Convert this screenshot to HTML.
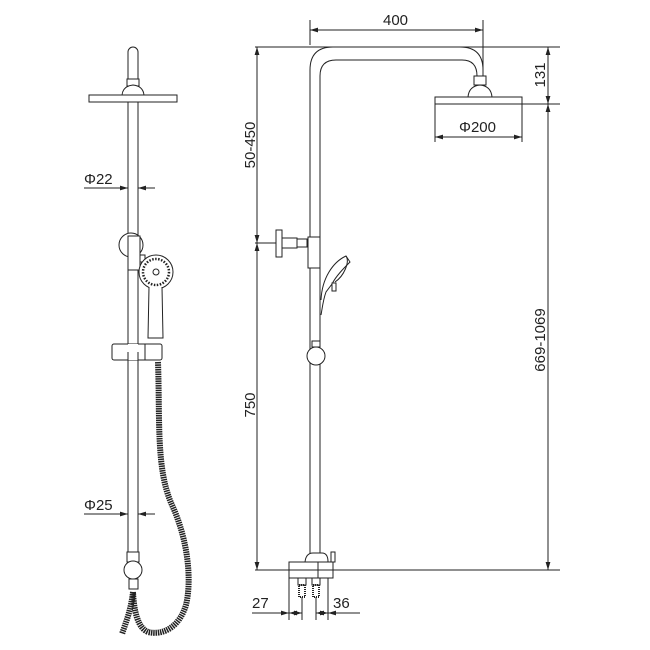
<!DOCTYPE html>
<html><head><style>
html,body{margin:0;padding:0;background:#fff;}
svg{display:block;}
text{font-family:"Liberation Sans",sans-serif;font-size:15px;fill:#222;}
</style></head><body>
<svg width="650" height="650" viewBox="0 0 650 650" xmlns="http://www.w3.org/2000/svg">
<defs>
<marker id="a" viewBox="0 0 10 6" refX="10" refY="3" markerWidth="8" markerHeight="5" orient="auto-start-reverse"><path d="M0,0 L10,3 L0,6 z" fill="#222"/></marker>
</defs>
<g fill="none" stroke="#222" stroke-width="1">
<path d="M128,80 V52 a5,5 0 0 1 10,0 V80 z" fill="#fff"/>
<rect x="127" y="79" width="12" height="7" fill="#fff"/>
<path d="M122,95 q1,-9 11,-10 q10,1 11,10 z" fill="#fff"/>
<rect x="89" y="95" width="88" height="7" fill="#fff"/>
<line x1="128" y1="102" x2="128" y2="555"/>
<line x1="138" y1="102" x2="138" y2="555"/>
<line x1="84" y1="188" x2="128" y2="188" marker-end="url(#a)"/>
<line x1="155" y1="188" x2="138" y2="188" marker-end="url(#a)"/>
<circle cx="131" cy="245" r="12" fill="#fff"/>
<rect x="128" y="236" width="12" height="34" fill="#fff"/>
<rect x="140" y="255" width="5" height="7" fill="#fff"/>
<circle cx="156" cy="272" r="17" fill="#fff"/>
<circle cx="156" cy="272" r="13" stroke-dasharray="1.5 1.5" stroke-width="2.5"/>
<circle cx="156" cy="272" r="3"/>
<path d="M149,287 L148,338 H163 L162,287" fill="#fff"/>
<rect x="112" y="344" width="50" height="16" rx="2" fill="#fff"/>
<line x1="145" y1="344" x2="145" y2="360"/>
<rect x="128" y="344" width="10" height="16" fill="#fff" stroke="none"/>
<line x1="128" y1="352" x2="128" y2="400"/><line x1="138" y1="352" x2="138" y2="400"/>
<line x1="84" y1="514" x2="128" y2="514" marker-end="url(#a)"/>
<line x1="155" y1="514" x2="138" y2="514" marker-end="url(#a)"/>
<rect x="127" y="552" width="12" height="10" fill="#fff"/>
<circle cx="133" cy="570" r="9" fill="#fff"/>
<rect x="129" y="579" width="9" height="10" fill="#fff"/>
<path d="M158,362 C160,420 156,470 172,505 C188,540 192,580 186,605 C180,625 165,636 148,632 C138,628 134,612 133,592" stroke="#222" stroke-width="6" stroke-dasharray="1.5 0.8"/>
<path d="M133,592 C131,610 126,622 122,634" stroke="#222" stroke-width="6" stroke-dasharray="1.5 0.8"/>
</g>
<g stroke="#222" stroke-width="1" fill="none">
<path d="M310,555 V70 Q310,47 333,47 H460 Q483,47 483,70 V76"/>
<path d="M320,555 V76 Q320,60 336,60 H462 Q477,60 477,76"/>
<rect x="474" y="76" width="12" height="9" fill="#fff"/>
<path d="M468,97 q1,-11 12,-12 q11,1 12,12 z" fill="#fff"/>
<rect x="435" y="97" width="87" height="7" fill="#fff"/>
<rect x="276" y="230" width="6" height="27" fill="#fff"/>
<rect x="282" y="238" width="15" height="10" fill="#fff"/>
<rect x="297" y="239" width="10" height="8" fill="#fff"/>
<rect x="308" y="237" width="12" height="31" fill="#fff"/>
<path d="M321,300 C322,278 333,262 346,256 L350,262 C344,268 336,276 332,284 L326,292 C323,300 322,310 321,315" fill="#fff"/>
<path d="M346,256 C350,262 344,276 335,282" />
<rect x="332" y="283" width="4" height="8" fill="#fff"/>
<rect x="312" y="341" width="8" height="6" fill="#fff"/>
<circle cx="316" cy="356" r="9" fill="#fff"/>
<path d="M305,562 Q306,553 313,553 H322 Q328,553 328,562" fill="#fff"/>
<rect x="289" y="562" width="44" height="16" fill="#fff"/>
<line x1="318" y1="562" x2="318" y2="578"/>
<rect x="331" y="552" width="4" height="10" fill="#fff"/>
<path d="M298,578 v7 h8 v-7 M312,578 v7 h8 v-7" />
<rect x="299" y="585" width="6" height="12" stroke-dasharray="1 1" stroke-width="2"/>
<rect x="313" y="585" width="6" height="12" stroke-dasharray="1 1" stroke-width="2"/>
<line x1="255" y1="47" x2="560" y2="47"/>
<line x1="255" y1="570" x2="560" y2="570"/>
<line x1="522" y1="104" x2="560" y2="104"/>
<line x1="310" y1="20" x2="310" y2="45"/>
<line x1="483" y1="20" x2="483" y2="75"/>
<line x1="255" y1="243" x2="276" y2="243"/>
<line x1="435" y1="104" x2="435" y2="142"/>
<line x1="522" y1="104" x2="522" y2="142"/>
<line x1="289" y1="578" x2="289" y2="620"/>
<line x1="302" y1="597" x2="302" y2="620"/>
<line x1="316" y1="597" x2="316" y2="620"/>
<line x1="328" y1="578" x2="328" y2="620"/>
<line x1="310" y1="30" x2="483" y2="30" marker-start="url(#a)" marker-end="url(#a)"/>
<line x1="257" y1="47" x2="257" y2="243" marker-start="url(#a)" marker-end="url(#a)"/>
<line x1="257" y1="243" x2="257" y2="570" marker-start="url(#a)" marker-end="url(#a)"/>
<line x1="548" y1="47" x2="548" y2="104" marker-start="url(#a)" marker-end="url(#a)"/>
<line x1="548" y1="104" x2="548" y2="570" marker-start="url(#a)" marker-end="url(#a)"/>
<line x1="435" y1="137" x2="522" y2="137" marker-start="url(#a)" marker-end="url(#a)"/>
<line x1="252" y1="613" x2="289" y2="613" marker-end="url(#a)"/>
<line x1="289" y1="613" x2="302" y2="613" marker-start="url(#a)" marker-end="url(#a)"/>
<line x1="316" y1="613" x2="328" y2="613" marker-start="url(#a)" marker-end="url(#a)"/>
<line x1="360" y1="613" x2="328" y2="613" marker-end="url(#a)"/>
</g>
<text x="84" y="184">Φ22</text>
<text x="84" y="510">Φ25</text>
<text x="383" y="25">400</text>
<text x="459" y="132">Φ200</text>
<text x="252" y="608">27</text>
<text x="333" y="608">36</text>
<text transform="translate(250,145) rotate(-90)" text-anchor="middle" x="0" y="5">50-450</text>
<text transform="translate(250,405) rotate(-90)" text-anchor="middle" x="0" y="5">750</text>
<text transform="translate(540,75) rotate(-90)" text-anchor="middle" x="0" y="5">131</text>
<text transform="translate(540,340) rotate(-90)" text-anchor="middle" x="0" y="5">669-1069</text>
</svg>
</body></html>
